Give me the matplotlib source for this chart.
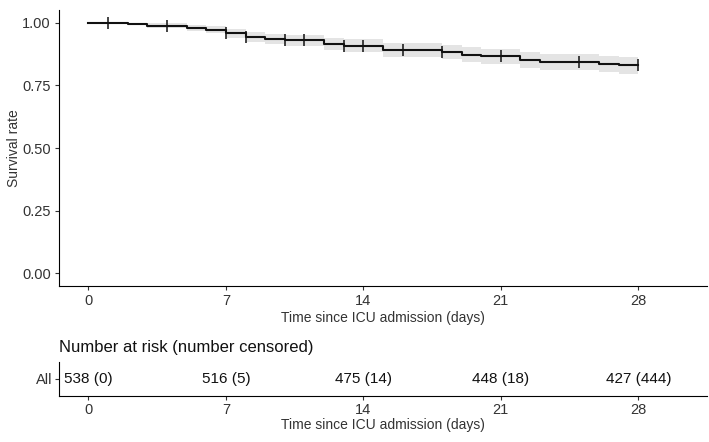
import matplotlib
matplotlib.use('Agg')
import matplotlib.pyplot as plt
import numpy as np

plt.rcParams['font.family'] = ['Liberation Sans', 'DejaVu Sans']

# Kaplan-Meier steps
time = np.array([0, 2, 3, 5, 6, 7, 8, 9, 10, 12, 13, 15, 18, 19, 20, 22, 23, 26, 27, 28])
surv = np.array([1.000, 0.995, 0.988, 0.979, 0.972, 0.957, 0.941, 0.935, 0.930, 0.914,
                 0.908, 0.890, 0.881, 0.872, 0.866, 0.850, 0.842, 0.835, 0.829, 0.829])
lower = np.array([1.000, 0.989, 0.978, 0.967, 0.958, 0.940, 0.921, 0.914, 0.908, 0.890,
                  0.883, 0.863, 0.853, 0.843, 0.836, 0.819, 0.810, 0.802, 0.795, 0.795])
upper = np.array([1.000, 1.000, 0.997, 0.991, 0.986, 0.974, 0.961, 0.956, 0.952, 0.938,
                  0.933, 0.917, 0.909, 0.901, 0.896, 0.881, 0.874, 0.868, 0.862, 0.862])
censor_times = np.array([1, 4, 7, 8, 10, 11, 13, 14, 16, 18, 21, 25, 28])

# risk table
risk_times = [0, 7, 14, 21, 28]
at_risk = [538, 516, 475, 448, 427]
censored = [0, 5, 14, 18, 444]

text_col = '#333333'
W, H = 709, 442
fig = plt.figure(figsize=(W / 100, H / 100), dpi=100)

def box(l, r, t, b):
    return [l / W, 1 - b / H, (r - l) / W, (b - t) / H]

ax = fig.add_axes(box(59, 707, 10, 286))
ax.fill_between(time, lower, upper, step='post', color='#e4e4e4', lw=0)
ax.step(time, surv, where='post', color='#111111', lw=1.5)
idx = np.searchsorted(time, censor_times, side='right') - 1
ax.plot(censor_times, surv[idx], ls='none', marker='|', ms=8, mew=1.1, color='#111111')

ax.set_xlim(-1.5, 31.5)
ax.set_ylim(-0.05, 1.05)
ax.set_xticks(risk_times)
ax.set_yticks([0, 0.25, 0.5, 0.75, 1.0])
ax.set_yticklabels(['0.00', '0.25', '0.50', '0.75', '1.00'])
ax.set_ylabel('Survival rate', fontsize=10, color=text_col, labelpad=1)
ax.set_xlabel('Time since ICU admission (days)', fontsize=10, color=text_col, labelpad=2)
for s in ['top', 'right']:
    ax.spines[s].set_visible(False)
ax.tick_params(length=3, width=0.8, colors=text_col, labelsize=10.5, pad=3)

# risk table
tab = fig.add_axes(box(59, 707, 362, 396))
tab.set_xlim(-1.5, 31.5)
tab.set_ylim(0.5, 1.5)
for t, n, c in zip(risk_times, at_risk, censored):
    tab.text(t, 1, '%d (%d)' % (n, c), ha='center', va='center', fontsize=11, color='#111111')
tab.set_xticks(risk_times)
tab.set_yticks([1])
tab.set_yticklabels(['All'])
tab.set_xlabel('Time since ICU admission (days)', fontsize=10, color=text_col, labelpad=1)
for s in ['top', 'right']:
    tab.spines[s].set_visible(False)
tab.tick_params(length=3, width=0.8, colors=text_col, labelsize=10.5, pad=2)
tab.set_title('Number at risk (number censored)', loc='left', fontsize=12,
              color='#111111', pad=7)

fig.savefig('out.png', dpi=100)
